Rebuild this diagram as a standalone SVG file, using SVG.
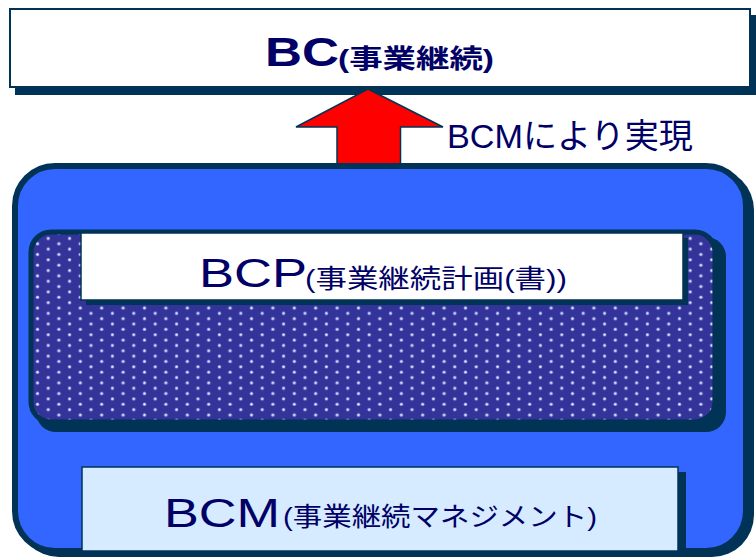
<svg xmlns="http://www.w3.org/2000/svg" width="756" height="557" viewBox="0 0 756 557">
<style>
.t{font-family:"Liberation Sans","Noto Sans CJK JP",sans-serif;fill:#000066}
.shadow{fill:#003355}
.edge{stroke:#003355}
.dh{fill:#8f9de0}
.dc{fill:#eef2ff}
</style>
<defs>
<pattern id="dots" patternUnits="userSpaceOnUse" x="21.45" y="225.025" width="21.4" height="10.7">
<rect width="21.4" height="10.7" fill="#333399"/>
<circle class="dh" cx="5.35" cy="2.675" r="1.8"/>
<circle class="dc" cx="5.35" cy="2.675" r="1"/>
<circle class="dh" cx="16.05" cy="8.025" r="1.8"/>
<circle class="dc" cx="16.05" cy="8.025" r="1"/>
</pattern>
</defs>
<rect width="756" height="557" fill="#ffffff"/>

<g id="node-bc">
<rect class="shadow" x="15" y="15" width="741" height="80"/>
<rect x="10" y="9" width="740" height="78" fill="#ffffff" class="edge" stroke-width="2"/>
<text class="t" x="265" y="66" font-size="40" font-weight="bold" textLength="74" lengthAdjust="spacingAndGlyphs">BC</text>
<text class="t" x="338" y="68" font-size="26" font-weight="bold" textLength="156" lengthAdjust="spacingAndGlyphs">(事業継続)</text>
</g>

<g id="connectors">
<polygon points="368,89 443,127 400.5,127 400.5,172 337,172 337,127 296,127" fill="#ff0000" class="edge" stroke-width="1.5" stroke-linejoin="miter"/>
<text class="t" x="447" y="148" font-size="34" textLength="246" lengthAdjust="spacingAndGlyphs">BCMにより実現</text>
</g>

<g id="node-bcm-frame">
<rect class="shadow" x="17" y="168" width="737" height="389" rx="42"/>
<rect x="15" y="166" width="731" height="385" rx="40" fill="#3366ff" class="edge" stroke-width="6"/>
</g>

<g id="node-bcp-area">
<rect class="shadow" x="36" y="237" width="690" height="195" rx="20"/>
<rect x="31" y="232" width="684" height="190" rx="20" fill="url(#dots)" class="edge" stroke-width="5"/>
</g>

<g id="node-bcp">
<rect class="shadow" x="86" y="238" width="602" height="67"/>
<rect x="81" y="233" width="602" height="67" fill="#ffffff" class="edge" stroke-width="1.5"/>
<text class="t" x="199" y="287" font-size="40" textLength="108" lengthAdjust="spacingAndGlyphs">BCP</text>
<text class="t" x="305" y="288" font-size="26" textLength="262" lengthAdjust="spacingAndGlyphs">(事業継続計画(書))</text>
</g>

<g id="node-bcm">
<rect class="shadow" x="87" y="472" width="599" height="85"/>
<rect x="82" y="467" width="596" height="84" fill="#d6ebff" class="edge" stroke-width="1.5"/>
<text class="t" x="164" y="527" font-size="40" textLength="116" lengthAdjust="spacingAndGlyphs">BCM</text>
<text class="t" x="283" y="526" font-size="26" textLength="314" lengthAdjust="spacingAndGlyphs">(事業継続マネジメント)</text>
</g>
</svg>
